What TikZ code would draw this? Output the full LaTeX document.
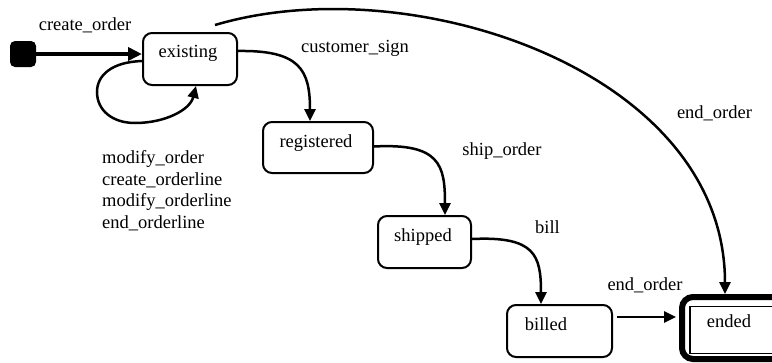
\documentclass[tikz,border=0pt]{standalone}
\usepackage{fontspec}
\setmainfont{Liberation Serif}
\usetikzlibrary{arrows.meta,calc}

\begin{document}
\begin{tikzpicture}[x=1pt,y=-1pt,
  every node/.style={font=\fontsize{18.5}{22}\selectfont},
  state/.style={draw, line width=2pt, rounded corners=9pt, inner sep=0pt},
  lbl/.style={inner sep=0pt, text height=12.5pt, text depth=4pt},
  trans/.style={line width=2.5pt, -{Triangle[length=12pt,width=11pt]}},
]
\useasboundingbox (0,0) rectangle (772,362);
\clip (0,0) rectangle (772,362);

% initial pseudo-state
\node[fill=black, rounded corners=5pt, minimum size=26pt, inner sep=0pt] (init) at (23,54) {};

% states
\node[state, minimum width=94pt, minimum height=52pt] (existing) at (190,59) {};
\node[state, minimum width=110pt, minimum height=51pt] (registered) at (318,147.5) {};
\node[state, minimum width=93pt, minimum height=52pt] (shipped) at (424.5,242) {};
\node[state, minimum width=105pt, minimum height=52pt] (billed) at (559.5,331) {};

% final state: heavy outer frame around a thin inner frame
\node[draw, line width=6pt, rounded corners=11pt, minimum width=110pt, minimum height=62pt, inner sep=0pt] (ended) at (737,328) {};
\node[draw, line width=1.5pt, minimum width=90pt, minimum height=47pt, inner sep=0pt] (ended-in) at (735,330) {};

% state names
\node[lbl] (existing-t) at (188,53) {existing};
\node[lbl] (registered-t) at (316,143) {registered};
\node[lbl] (shipped-t) at (423,237) {shipped};
\node[lbl] (billed-t) at (546,326) {billed};
\node[lbl] (ended-t) at (729,323) {ended};

% transition labels
\node[lbl] (l-create) at (85,26) {create\_order};
\node[lbl] (l-cust) at (355,48) {customer\_sign};
\node[lbl] (l-ship) at (502,151) {ship\_order};
\node[lbl] (l-bill) at (547.5,229) {bill};
\node[lbl] (l-end1) at (714.5,114) {end\_order};
\node[lbl] (l-end2) at (645,286) {end\_order};
\foreach \t [count=\i] in {modify\_order, create\_orderline, modify\_orderline, end\_orderline}
  \node[lbl, anchor=west] (l-loop\i) at (102,{159.5+21.6*(\i-1)}) {\t};

% transitions
\draw[line width=4pt, -{Triangle[length=14pt,width=13pt]}] (init.east) -- (existing.west |- init.east);

\draw[trans] ([yshift=-2pt]existing.west)
  .. controls (112,62) and (97,75) .. (97,92)
  .. controls (97,110) and (112,123) .. (135,123)
  .. controls (165,123) and (190,110) .. ([xshift=6pt]existing.south);

\draw[trans] ([yshift=8pt]existing.east)
  .. controls (300,50) and (310,70) .. ([xshift=-8pt]registered.north);

\draw[trans] ([yshift=1pt]registered.east)
  .. controls (440,143) and (445,165) .. ([xshift=20.5pt]shipped.north);

\draw[trans] ([yshift=3pt]shipped.east)
  .. controls (535,236) and (541,255) .. ([xshift=-18.5pt]billed.north);

\coordinate (b-out) at ([xshift=4pt,yshift=14pt]billed.east);
\draw[trans] (b-out) -- ([xshift=-3pt]ended.west |- b-out);

\coordinate (arc-start) at ([xshift=-23pt,yshift=7pt]existing.north east);
\draw[trans] (arc-start)
  .. controls (410,-33) and (725,70) .. ([xshift=-12pt]ended.north);
\end{tikzpicture}
\end{document}
